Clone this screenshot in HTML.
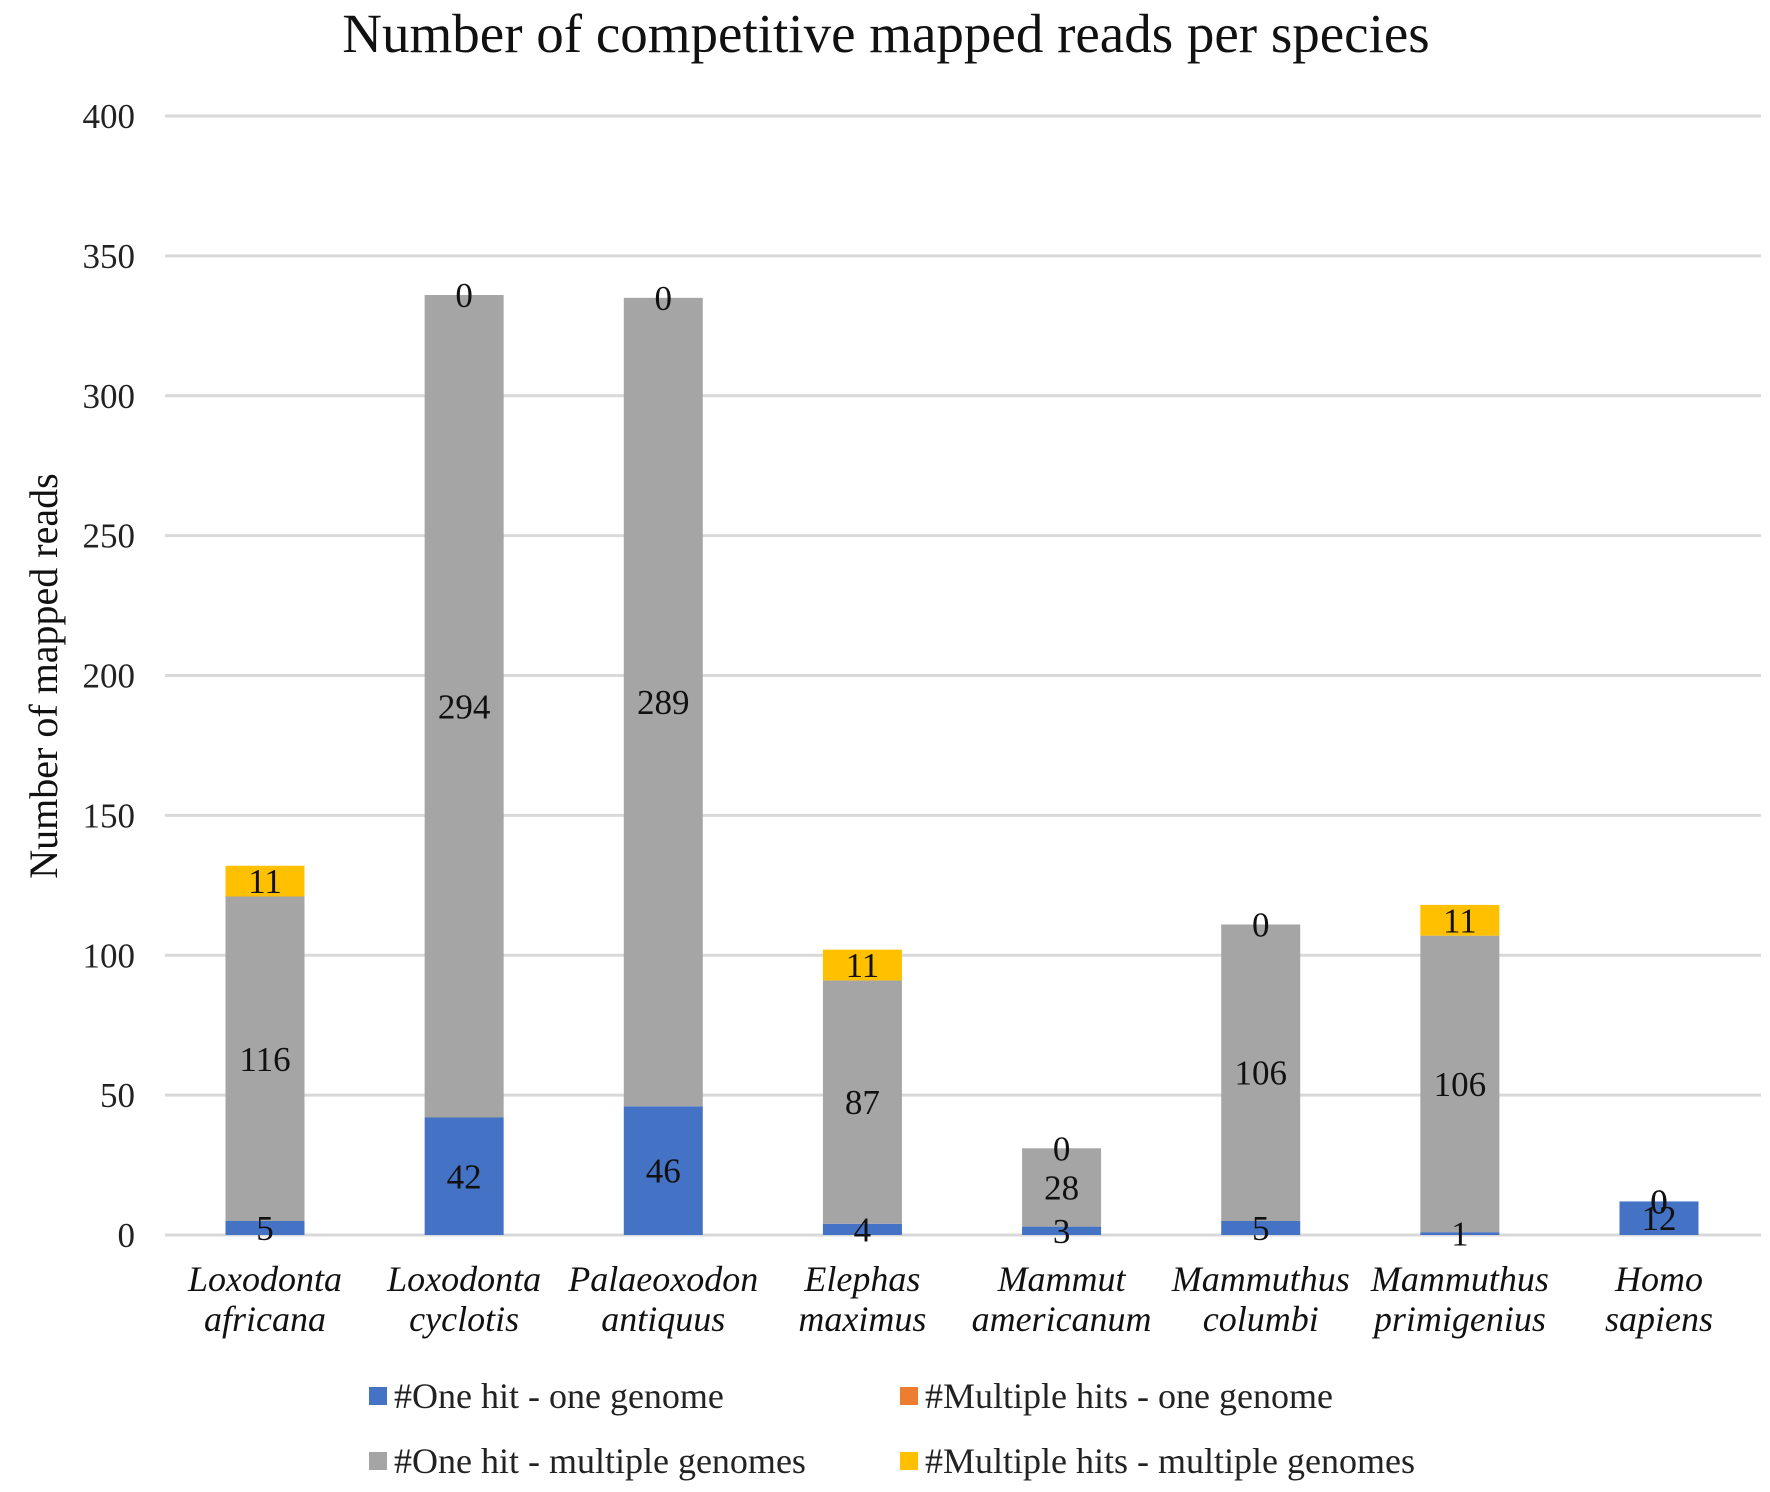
<!DOCTYPE html>
<html><head><meta charset="utf-8"><style>
html,body{margin:0;padding:0;background:#fff;}
svg{display:block;font-family:"Liberation Serif",serif;}
</style></head><body>
<svg id="chart" width="1770" height="1492" viewBox="0 0 1770 1492">
<text x="886" y="52" text-anchor="middle" font-size="55" fill="#111">Number of competitive mapped reads per species</text>
<text transform="translate(57,676) rotate(-90)" text-anchor="middle" font-size="40" fill="#111">Number of mapped reads</text>
<g id="grid"></g><g id="bars"></g><g id="labels"></g><g id="xlabels"></g>
<g id="legend"></g>
</svg>
<script>
const categories=[["Loxodonta","africana"],["Loxodonta","cyclotis"],["Palaeoxodon","antiquus"],["Elephas","maximus"],["Mammut","americanum"],["Mammuthus","columbi"],["Mammuthus","primigenius"],["Homo","sapiens"]];
const oneHitOneGenome=[5,42,46,4,3,5,1,12];
const multiHitsOneGenome=[0,0,0,0,0,0,0,0];
const oneHitMultiGenomes=[116,294,289,87,28,106,106,0];
const multiHitsMultiGenomes=[11,0,0,11,0,0,11,0];
const yTicks=[0,50,100,150,200,250,300,350,400];
const seriesNames=["#One hit - one genome","#Multiple hits - one genome","#One hit - multiple genomes","#Multiple hits - multiple genomes"];

const NS="http://www.w3.org/2000/svg";
const X0=165,X1=1761,Y0=1235,Y400=116;
const y=v=>Y0-(v/400)*(Y0-Y400);
const step=(1659-265)/7;
const cx=i=>265+i*step;
const BW=79;
function mk(tag,attrs,parent){const e=document.createElementNS(NS,tag);for(const k in attrs)e.setAttribute(k,attrs[k]);parent.appendChild(e);return e;}
const grid=document.getElementById('grid'),bars=document.getElementById('bars'),labels=document.getElementById('labels'),xl=document.getElementById('xlabels'),leg=document.getElementById('legend');
yTicks.forEach(t=>{
  const l=mk('line',{x1:X0,x2:X1,y1:y(t),y2:y(t),stroke:'#d9d9d9','stroke-width':3},grid);
  
  
  const tx=mk('text',{x:135,y:y(t)+12,'text-anchor':'end','font-size':35,fill:'#222'},grid);
  tx.textContent=t;
  
  
});
const series=[oneHitOneGenome,multiHitsOneGenome,oneHitMultiGenomes,multiHitsMultiGenomes];
const colors=['#4472C4','#ED7D31','#A5A5A5','#FFC000'];
const keys=['one-hit-one-genome','multi-hits-one-genome','one-hit-multi-genomes','multi-hits-multi-genomes'];
categories.forEach((c,i)=>{
  let base=0;
  series.forEach((s,k)=>{
    const v=s[i];
    const top=base+v;
    if(v>0){
      const r=mk('rect',{x:cx(i)-BW/2,y:y(top),width:BW,height:y(base)-y(top),fill:colors[k]},bars);
      
      
    }
    if(k!==1){
      const t=mk('text',{x:cx(i),y:(y(base)+y(top))/2+12,'text-anchor':'middle','font-size':35,fill:'#111'},labels);
      t.textContent=v;
      
      
    }
    base=top;
  });
  c.forEach((w,j)=>{
    const t=mk('text',{x:cx(i),y:1291+j*40,'text-anchor':'middle','font-size':36,'font-style':'italic',fill:'#111'},xl);
    t.textContent=w;
    
    
  });
});
const legPos=[[369,1396],[900,1396],[369,1461],[900,1461]];
seriesNames.forEach((n,k)=>{
  const g=mk('g',{},leg);
  
  
  const [lx,ly]=legPos[k];
  mk('rect',{x:lx,y:ly-9,width:18,height:18,fill:colors[k]},g);
  const t=mk('text',{x:lx+25,y:ly+12,'font-size':36,fill:'#222'},g);
  t.textContent=n;
});
</script>
</body></html>
